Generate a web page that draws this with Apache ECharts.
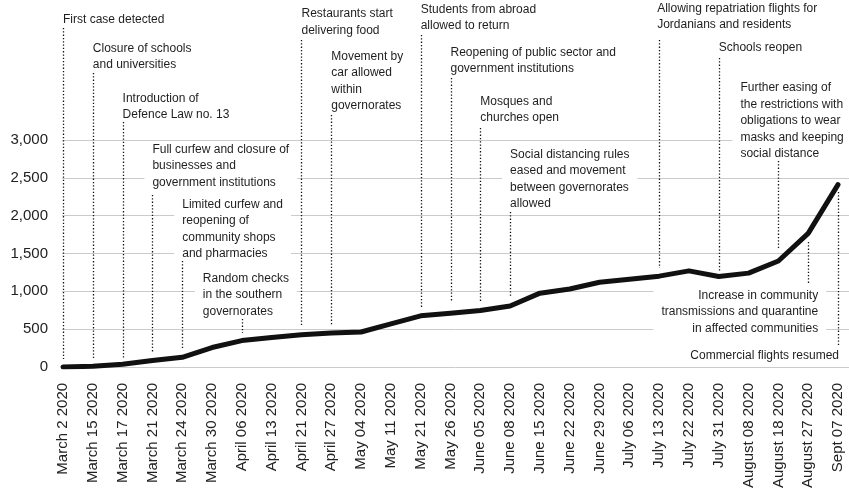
<!DOCTYPE html>
<html><head><meta charset="utf-8">
<script src="https://cdn.jsdelivr.net/npm/echarts@6/dist/echarts.min.js"></script>
<style>html,body{margin:0;padding:0;background:#fff}#c{width:849px;height:491px}</style>
</head><body><div id="c"></div>
<script>
const dates = ['March 2 2020','March 15 2020','March 17 2020','March 21 2020','March 24 2020','March 30 2020','April 06 2020','April 13 2020','April 21 2020','April 27 2020','May 04 2020','May 11 2020','May 21 2020','May 26 2020','June 05 2020','June 08 2020','June 15 2020','June 22 2020','June 29 2020','July 06 2020','July 13 2020','July 22 2020','July 31 2020','August 08 2020','August 18 2020','August 27 2020','Sept 07 2020'];
const cases = [0, 10, 35, 85, 127, 256, 348, 390, 425, 448, 462, 570, 675, 710, 745, 805, 975, 1030, 1120, 1160, 1200, 1270, 1195, 1240, 1400, 1765, 2410];
const yMin = 0, yMax = 3000, yStep = 500;

const eventDates = ['March 2 2020','March 15 2020','March 17 2020','March 21 2020','March 24 2020','April 06 2020','April 21 2020','April 27 2020','May 21 2020','May 26 2020','June 05 2020','June 08 2020','July 13 2020','July 31 2020','August 18 2020','August 27 2020','Sept 07 2020'];
const eventTexts = [
  'First case detected',
  'Closure of schools\nand universities',
  'Introduction of\nDefence Law no. 13',
  'Full curfew and closure of\nbusinesses and\ngovernment institutions',
  'Limited curfew and\nreopening of\ncommunity shops\nand pharmacies',
  'Random checks\nin the southern\ngovernorates',
  'Restaurants start\ndelivering food',
  'Movement by\ncar allowed\nwithin\ngovernorates',
  'Students from abroad\nallowed to return',
  'Reopening of public sector and\ngovernment institutions',
  'Mosques and\nchurches open',
  'Social distancing rules\neased and movement\nbetween governorates\nallowed',
  'Allowing repatriation flights for\nJordanians and residents',
  'Schools reopen',
  'Further easing of\nthe restrictions with\nobligations to wear\nmasks and keeping\nsocial distance',
  'Increase in community\ntransmissions and quarantine\nin affected communities',
  'Commercial flights resumed'
];
// annotation layout (pixels): text offset, text top, dotted line top/bottom
const eventLayout = [
  {dx:0, ty:11, y1:28, y2:359, align:'left'},
  {dx:0, ty:40, y1:73, y2:359, align:'left'},
  {dx:0, ty:90, y1:122, y2:358, align:'left'},
  {dx:0, ty:141, y1:195, y2:353, align:'left'},
  {dx:0, ty:196, y1:261, y2:350, align:'left'},
  {dx:-39, ty:270, y1:319, y2:333, align:'left'},
  {dx:0, ty:5.5, y1:40, y2:326, align:'left'},
  {dx:0, ty:48, y1:115, y2:326, align:'left'},
  {dx:0, ty:1, y1:35, y2:309, align:'left'},
  {dx:0, ty:44, y1:78, y2:302, align:'left'},
  {dx:0, ty:93, y1:128, y2:302, align:'left'},
  {dx:0, ty:146, y1:212, y2:296, align:'left'},
  {dx:-2, ty:0, y1:40, y2:268, align:'left'},
  {dx:0, ty:39.5, y1:58, y2:271, align:'left'},
  {dx:-38, ty:79.5, y1:161, y2:248, align:'left'},
  {dx:10, ty:287, y1:242, y2:283, align:'right'},
  {dx:1, ty:347, y1:192, y2:346, align:'right'}
];

const FONT = "'Liberation Sans', Arial, sans-serif";
const PAD = 8;
const chart = echarts.init(document.getElementById('c'), null, {renderer:'canvas'});
const gridBox = {top:140, bottom:124};
chart.setOption({
  animation:false,
  backgroundColor:'#fff',
  grid:[
    {left:63, right:11, top:gridBox.top, bottom:gridBox.bottom},
    {left:62, right:0, top:gridBox.top, bottom:gridBox.bottom}
  ],
  xAxis:[
    {type:'category', gridIndex:0, data:dates, boundaryGap:false,
     axisLine:{show:false}, axisTick:{show:false}, splitLine:{show:false},
     axisLabel:{rotate:90, interval:0, margin:16, fontSize:15, color:'#222', fontFamily:FONT,
       padding:[7,0,0,0]}},
    {type:'value', gridIndex:1, min:0, max:1, show:false}
  ],
  yAxis:[
    {type:'value', gridIndex:0, min:yMin, max:yMax, interval:yStep,
     axisLine:{show:false}, axisTick:{show:false}, splitLine:{show:false},
     axisLabel:{margin:15, fontSize:15, color:'#222', fontFamily:FONT,
       formatter:v => v.toLocaleString('en-US')}},
    {type:'value', gridIndex:1, min:yMin, max:yMax, interval:yStep,
     axisLine:{show:false}, axisTick:{show:false}, axisLabel:{show:false},
     splitLine:{show:true, lineStyle:{color:'#cbcbcb', width:1}}}
  ],
  series:[{
    type:'line', xAxisIndex:0, yAxisIndex:0, data:cases, showSymbol:false, symbol:'none',
    lineStyle:{color:'#111', width:5, cap:'round', join:'round'}, z:5
  }]
});

const elements = [];
eventDates.forEach((d, i) => {
  const x = chart.convertToPixel({xAxisIndex:0}, dates.indexOf(d));
  const L = eventLayout[i];
  const tx = x + L.dx + (L.align === 'right' ? PAD : -PAD);
  elements.push({
    type:'text', x: tx, y: L.ty, z:100,
    style:{text:eventTexts[i], fill:'#1e1e1e', fontSize:12, fontFamily:FONT,
      lineHeight:16.5, align:L.align, verticalAlign:'top',
      backgroundColor:'#fff', padding:[0,PAD,0,PAD]}
  });
  elements.push({
    type:'line', z:110,
    shape:{x1:Math.round(x)+0.5, y1:L.y1, x2:Math.round(x)+0.5, y2:L.y2},
    style:{stroke:'#111', lineWidth:1.3, lineDash:[1.3,2]}
  });
});
chart.setOption({graphic:{elements}});
</script>
</body></html>
